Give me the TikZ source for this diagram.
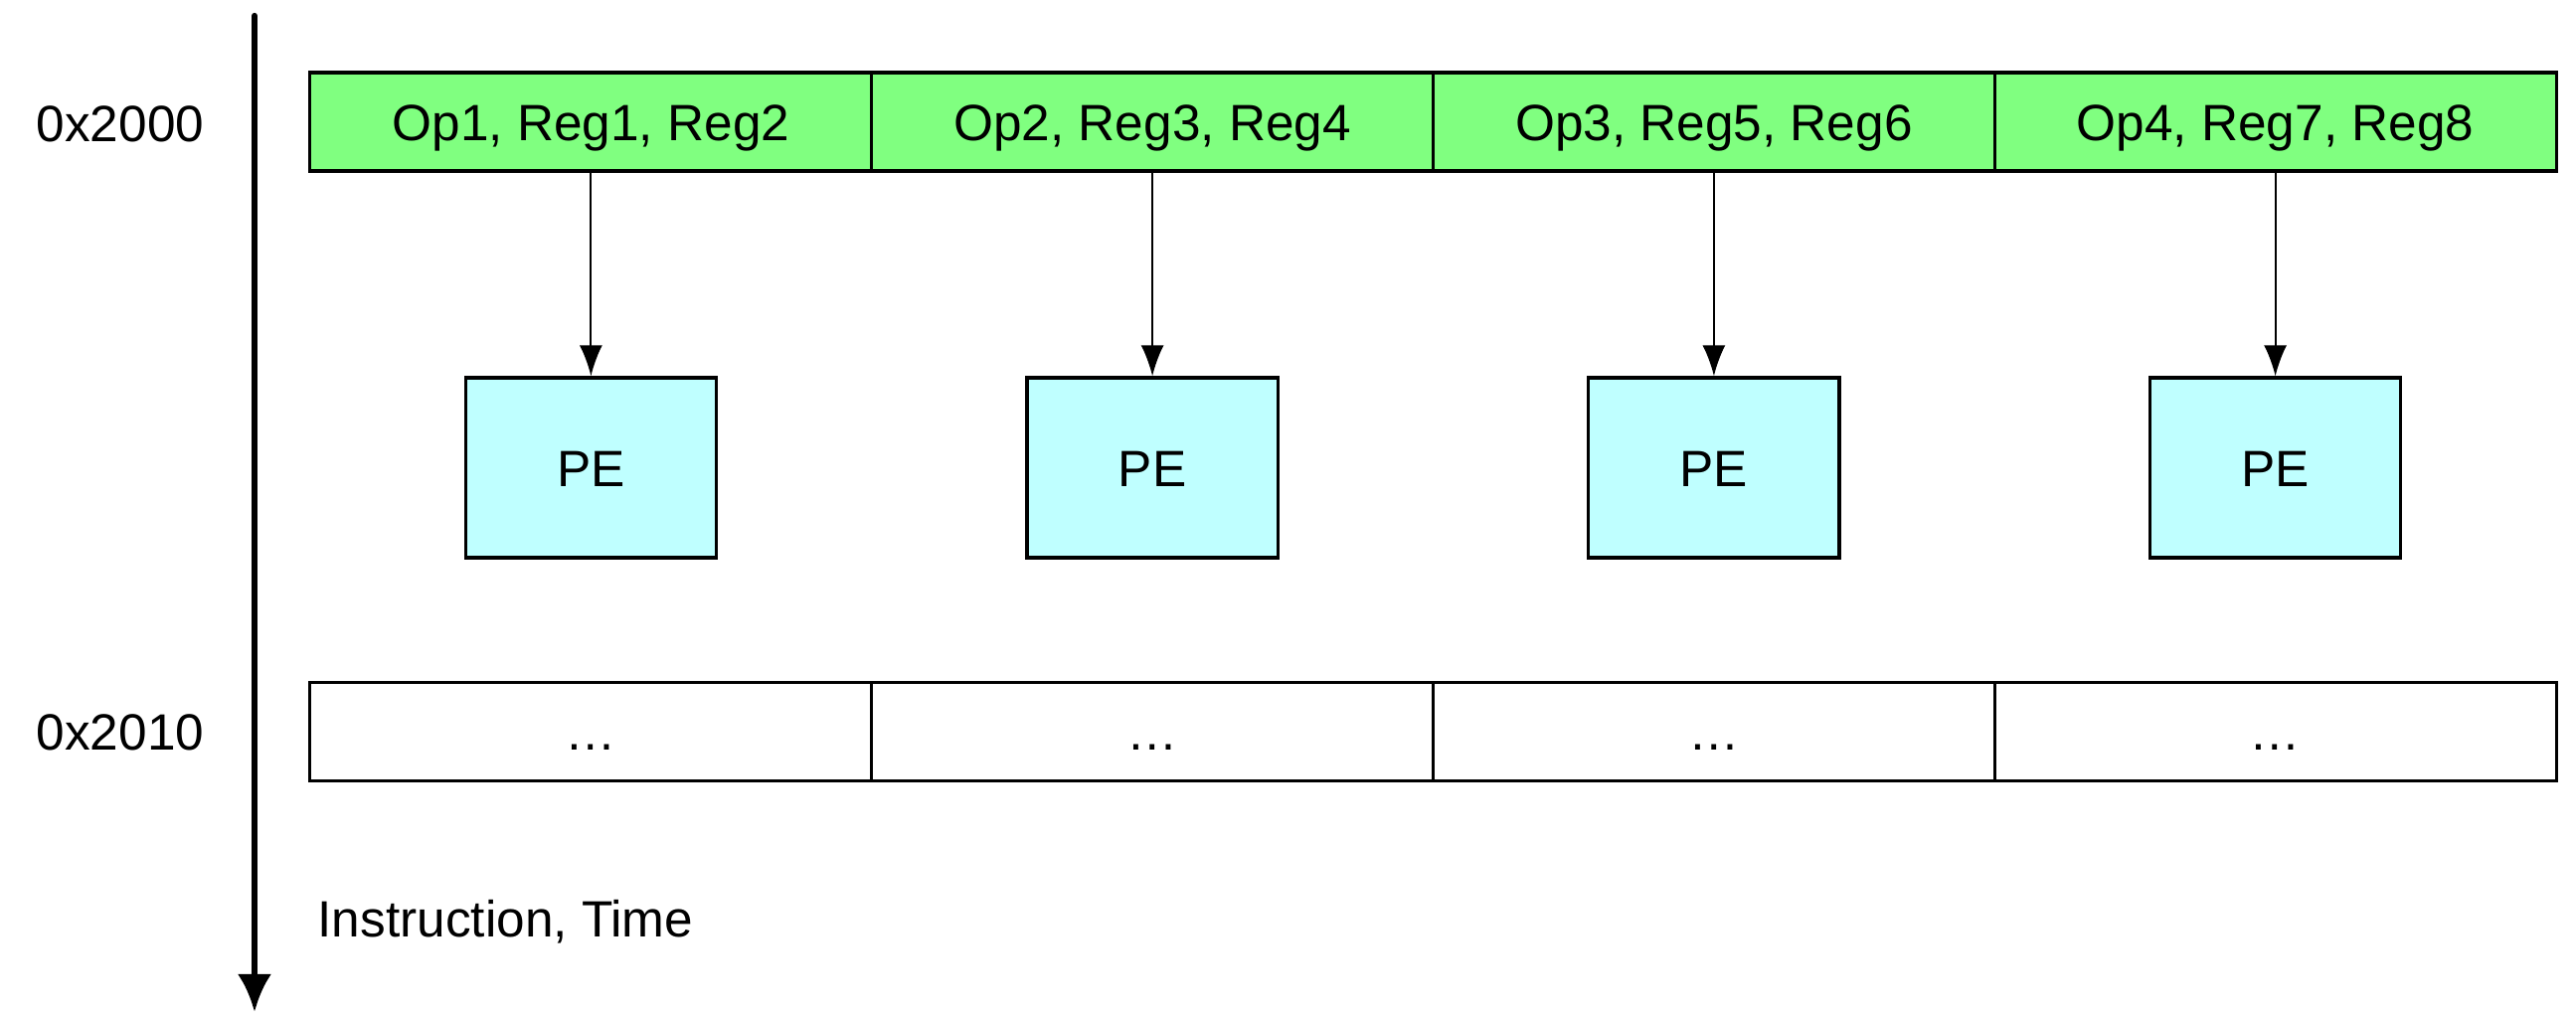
\documentclass[tikz,border=0pt]{standalone}
\usepackage{fontspec}
\setmainfont{Liberation Sans}
\usetikzlibrary{arrows.meta}
\definecolor{slotgreen}{RGB}{128,255,128}
\definecolor{pecyan}{RGB}{191,255,255}
\begin{document}
\begin{tikzpicture}[x=0.01cm,y=-0.01cm,
  every node/.style={font=\fontsize{14.6pt}{17pt}\selectfont, inner sep=0pt,
    text height=0.37cm, text depth=0pt},
  slot/.style={draw, line width=0.9pt, fill=slotgreen, minimum width=5.6475cm, minimum height=0.99cm},
  emptyslot/.style={draw, line width=0.9pt, fill=white, minimum width=5.6475cm, minimum height=0.99cm},
  pebox/.style={draw, line width=0.9pt, fill=pecyan, minimum width=2.52cm, minimum height=1.81cm},
  feed/.style={line width=0.6pt, -{Latex[length=0.31cm,width=0.23cm]}},
  axis/.style={line width=1.8pt, line cap=round, -{Latex[length=0.38cm,width=0.34cm]}}]
\useasboundingbox (0,0) rectangle (2591,1018);

% time axis
\coordinate (axtop) at (256,16);
\coordinate (axend) at (256,1018);
\draw[axis] (axtop) -- (axend);

% address labels
\node (addrA) at (121,123.5) {0x2000};
\node (addrB) at (121,736) {0x2010};
\node[anchor=base west] (axlabel) at (319,942) {Instruction, Time};

% instruction word at 0x2000
\node[slot] (s1) at (594.4,122.5) {Op1, Reg1, Reg2};
\node[slot] (s2) at (1159.1,122.5) {Op2, Reg3, Reg4};
\node[slot] (s3) at (1723.9,122.5) {Op3, Reg5, Reg6};
\node[slot] (s4) at (2288.6,122.5) {Op4, Reg7, Reg8};

% processing elements
\node[pebox] (p1) at (594.4,470.5) {PE};
\node[pebox] (p2) at (1159.1,470.5) {PE};
\node[pebox] (p3) at (1723.9,470.5) {PE};
\node[pebox] (p4) at (2288.6,470.5) {PE};

% instruction word at 0x2010
\node[emptyslot] (e1) at (594.4,736) {…};
\node[emptyslot] (e2) at (1159.1,736) {…};
\node[emptyslot] (e3) at (1723.9,736) {…};
\node[emptyslot] (e4) at (2288.6,736) {…};

% dispatch to PEs
\foreach \i in {1,2,3,4}
  \draw[feed] (s\i.south) -- (p\i.north);
\end{tikzpicture}
\end{document}
